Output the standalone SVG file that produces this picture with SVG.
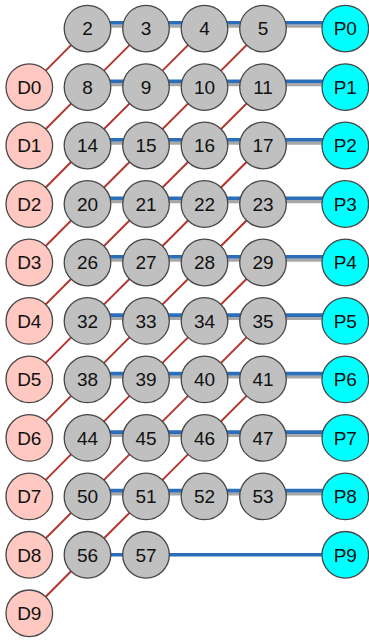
<svg xmlns="http://www.w3.org/2000/svg" width="369" height="642" viewBox="0 0 369 642">
<style>
.bg{fill:#ffffff}
.gr{stroke:#a8a8a8;stroke-width:3.4;fill:none}
.bl{stroke:#2b6fba;stroke-width:3.6;fill:none}
.rd{stroke:#b3352c;stroke-width:2;fill:none}
.n circle{fill:#c0c0c0;stroke:#474747;stroke-width:1.3}
.d circle{fill:#ffc8c0;stroke:#474747;stroke-width:1.3}
.p circle{fill:#00ffff;stroke:#474747;stroke-width:1.3}
text{font-family:"Liberation Sans",Arial,sans-serif;font-size:19px;fill:#111;text-anchor:middle}
</style>
<rect class="bg" x="0" y="0" width="369" height="642"/>
<g id="connectors">
<g id="h-gray" class="gr">
<line x1="87.5" y1="26.1" x2="345.3" y2="26.1"/>
<line x1="87.5" y1="84.6" x2="345.3" y2="84.6"/>
<line x1="87.5" y1="143" x2="345.3" y2="143"/>
<line x1="87.5" y1="201.5" x2="345.3" y2="201.5"/>
<line x1="87.5" y1="260" x2="345.3" y2="260"/>
<line x1="87.5" y1="318.4" x2="345.3" y2="318.4"/>
<line x1="87.5" y1="376.9" x2="345.3" y2="376.9"/>
<line x1="87.5" y1="435.4" x2="345.3" y2="435.4"/>
<line x1="87.5" y1="493.9" x2="345.3" y2="493.9"/>
</g>
<g id="h-blue" class="bl">
<line x1="87.5" y1="22.8" x2="146" y2="22.8"/><line x1="146" y1="22.8" x2="204.5" y2="22.8"/><line x1="204.5" y1="22.8" x2="263" y2="22.8"/><line x1="263" y1="22.8" x2="345.3" y2="22.8"/>
<line x1="87.5" y1="81.3" x2="146" y2="81.3"/><line x1="146" y1="81.3" x2="204.5" y2="81.3"/><line x1="204.5" y1="81.3" x2="263" y2="81.3"/><line x1="263" y1="81.3" x2="345.3" y2="81.3"/>
<line x1="87.5" y1="139.7" x2="146" y2="139.7"/><line x1="146" y1="139.7" x2="204.5" y2="139.7"/><line x1="204.5" y1="139.7" x2="263" y2="139.7"/><line x1="263" y1="139.7" x2="345.3" y2="139.7"/>
<line x1="87.5" y1="198.2" x2="146" y2="198.2"/><line x1="146" y1="198.2" x2="204.5" y2="198.2"/><line x1="204.5" y1="198.2" x2="263" y2="198.2"/><line x1="263" y1="198.2" x2="345.3" y2="198.2"/>
<line x1="87.5" y1="256.7" x2="146" y2="256.7"/><line x1="146" y1="256.7" x2="204.5" y2="256.7"/><line x1="204.5" y1="256.7" x2="263" y2="256.7"/><line x1="263" y1="256.7" x2="345.3" y2="256.7"/>
<line x1="87.5" y1="315.1" x2="146" y2="315.1"/><line x1="146" y1="315.1" x2="204.5" y2="315.1"/><line x1="204.5" y1="315.1" x2="263" y2="315.1"/><line x1="263" y1="315.1" x2="345.3" y2="315.1"/>
<line x1="87.5" y1="373.6" x2="146" y2="373.6"/><line x1="146" y1="373.6" x2="204.5" y2="373.6"/><line x1="204.5" y1="373.6" x2="263" y2="373.6"/><line x1="263" y1="373.6" x2="345.3" y2="373.6"/>
<line x1="87.5" y1="432.1" x2="146" y2="432.1"/><line x1="146" y1="432.1" x2="204.5" y2="432.1"/><line x1="204.5" y1="432.1" x2="263" y2="432.1"/><line x1="263" y1="432.1" x2="345.3" y2="432.1"/>
<line x1="87.5" y1="490.6" x2="146" y2="490.6"/><line x1="146" y1="490.6" x2="204.5" y2="490.6"/><line x1="204.5" y1="490.6" x2="263" y2="490.6"/><line x1="263" y1="490.6" x2="345.3" y2="490.6"/>
<line x1="87.5" y1="554.8" x2="146" y2="554.8"/><line x1="146" y1="554.8" x2="345.3" y2="554.8"/>
</g>
<g id="diagonals" class="rd">
<line x1="29.3" y1="87.1" x2="87.5" y2="28.6"/>
<line x1="29.3" y1="145.5" x2="87.5" y2="87.1"/><line x1="87.5" y1="87.1" x2="146" y2="28.6"/>
<line x1="29.3" y1="204" x2="87.5" y2="145.5"/><line x1="87.5" y1="145.5" x2="146" y2="87.1"/><line x1="146" y1="87.1" x2="204.5" y2="28.6"/>
<line x1="29.3" y1="262.5" x2="87.5" y2="204"/><line x1="87.5" y1="204" x2="146" y2="145.5"/><line x1="146" y1="145.5" x2="204.5" y2="87.1"/><line x1="204.5" y1="87.1" x2="263" y2="28.6"/>
<line x1="29.3" y1="320.9" x2="87.5" y2="262.5"/><line x1="87.5" y1="262.5" x2="146" y2="204"/><line x1="146" y1="204" x2="204.5" y2="145.5"/><line x1="204.5" y1="145.5" x2="263" y2="87.1"/>
<line x1="29.3" y1="379.4" x2="87.5" y2="320.9"/><line x1="87.5" y1="320.9" x2="146" y2="262.5"/><line x1="146" y1="262.5" x2="204.5" y2="204"/><line x1="204.5" y1="204" x2="263" y2="145.5"/>
<line x1="29.3" y1="437.9" x2="87.5" y2="379.4"/><line x1="87.5" y1="379.4" x2="146" y2="320.9"/><line x1="146" y1="320.9" x2="204.5" y2="262.5"/><line x1="204.5" y1="262.5" x2="263" y2="204"/>
<line x1="29.3" y1="496.4" x2="87.5" y2="437.9"/><line x1="87.5" y1="437.9" x2="146" y2="379.4"/><line x1="146" y1="379.4" x2="204.5" y2="320.9"/><line x1="204.5" y1="320.9" x2="263" y2="262.5"/>
<line x1="29.3" y1="554.8" x2="87.5" y2="496.4"/><line x1="87.5" y1="496.4" x2="146" y2="437.9"/><line x1="146" y1="437.9" x2="204.5" y2="379.4"/><line x1="204.5" y1="379.4" x2="263" y2="320.9"/>
<line x1="29.3" y1="613.3" x2="87.5" y2="554.8"/><line x1="87.5" y1="554.8" x2="146" y2="496.4"/><line x1="146" y1="496.4" x2="204.5" y2="437.9"/><line x1="204.5" y1="437.9" x2="263" y2="379.4"/>
</g>
</g>
<g id="nodes">
<g id="n2" class="n"><circle cx="87.5" cy="28.6" r="23.3"/><text x="87.5" y="35.4">2</text></g>
<g id="n3" class="n"><circle cx="146" cy="28.6" r="23.3"/><text x="146" y="35.4">3</text></g>
<g id="n4" class="n"><circle cx="204.5" cy="28.6" r="23.3"/><text x="204.5" y="35.4">4</text></g>
<g id="n5" class="n"><circle cx="263" cy="28.6" r="23.3"/><text x="263" y="35.4">5</text></g>
<g id="n8" class="n"><circle cx="87.5" cy="87.1" r="23.3"/><text x="87.5" y="93.9">8</text></g>
<g id="n9" class="n"><circle cx="146" cy="87.1" r="23.3"/><text x="146" y="93.9">9</text></g>
<g id="n10" class="n"><circle cx="204.5" cy="87.1" r="23.3"/><text x="204.5" y="93.9">10</text></g>
<g id="n11" class="n"><circle cx="263" cy="87.1" r="23.3"/><text x="263" y="93.9">11</text></g>
<g id="n14" class="n"><circle cx="87.5" cy="145.5" r="23.3"/><text x="87.5" y="152.3">14</text></g>
<g id="n15" class="n"><circle cx="146" cy="145.5" r="23.3"/><text x="146" y="152.3">15</text></g>
<g id="n16" class="n"><circle cx="204.5" cy="145.5" r="23.3"/><text x="204.5" y="152.3">16</text></g>
<g id="n17" class="n"><circle cx="263" cy="145.5" r="23.3"/><text x="263" y="152.3">17</text></g>
<g id="n20" class="n"><circle cx="87.5" cy="204" r="23.3"/><text x="87.5" y="210.8">20</text></g>
<g id="n21" class="n"><circle cx="146" cy="204" r="23.3"/><text x="146" y="210.8">21</text></g>
<g id="n22" class="n"><circle cx="204.5" cy="204" r="23.3"/><text x="204.5" y="210.8">22</text></g>
<g id="n23" class="n"><circle cx="263" cy="204" r="23.3"/><text x="263" y="210.8">23</text></g>
<g id="n26" class="n"><circle cx="87.5" cy="262.5" r="23.3"/><text x="87.5" y="269.3">26</text></g>
<g id="n27" class="n"><circle cx="146" cy="262.5" r="23.3"/><text x="146" y="269.3">27</text></g>
<g id="n28" class="n"><circle cx="204.5" cy="262.5" r="23.3"/><text x="204.5" y="269.3">28</text></g>
<g id="n29" class="n"><circle cx="263" cy="262.5" r="23.3"/><text x="263" y="269.3">29</text></g>
<g id="n32" class="n"><circle cx="87.5" cy="320.9" r="23.3"/><text x="87.5" y="327.7">32</text></g>
<g id="n33" class="n"><circle cx="146" cy="320.9" r="23.3"/><text x="146" y="327.7">33</text></g>
<g id="n34" class="n"><circle cx="204.5" cy="320.9" r="23.3"/><text x="204.5" y="327.7">34</text></g>
<g id="n35" class="n"><circle cx="263" cy="320.9" r="23.3"/><text x="263" y="327.7">35</text></g>
<g id="n38" class="n"><circle cx="87.5" cy="379.4" r="23.3"/><text x="87.5" y="386.2">38</text></g>
<g id="n39" class="n"><circle cx="146" cy="379.4" r="23.3"/><text x="146" y="386.2">39</text></g>
<g id="n40" class="n"><circle cx="204.5" cy="379.4" r="23.3"/><text x="204.5" y="386.2">40</text></g>
<g id="n41" class="n"><circle cx="263" cy="379.4" r="23.3"/><text x="263" y="386.2">41</text></g>
<g id="n44" class="n"><circle cx="87.5" cy="437.9" r="23.3"/><text x="87.5" y="444.7">44</text></g>
<g id="n45" class="n"><circle cx="146" cy="437.9" r="23.3"/><text x="146" y="444.7">45</text></g>
<g id="n46" class="n"><circle cx="204.5" cy="437.9" r="23.3"/><text x="204.5" y="444.7">46</text></g>
<g id="n47" class="n"><circle cx="263" cy="437.9" r="23.3"/><text x="263" y="444.7">47</text></g>
<g id="n50" class="n"><circle cx="87.5" cy="496.4" r="23.3"/><text x="87.5" y="503.2">50</text></g>
<g id="n51" class="n"><circle cx="146" cy="496.4" r="23.3"/><text x="146" y="503.2">51</text></g>
<g id="n52" class="n"><circle cx="204.5" cy="496.4" r="23.3"/><text x="204.5" y="503.2">52</text></g>
<g id="n53" class="n"><circle cx="263" cy="496.4" r="23.3"/><text x="263" y="503.2">53</text></g>
<g id="n56" class="n"><circle cx="87.5" cy="554.8" r="23.3"/><text x="87.5" y="561.6">56</text></g>
<g id="n57" class="n"><circle cx="146" cy="554.8" r="23.3"/><text x="146" y="561.6">57</text></g>
<g id="P0" class="p"><circle cx="345.3" cy="28.6" r="23.3"/><text x="345.3" y="35.4">P0</text></g>
<g id="P1" class="p"><circle cx="345.3" cy="87.1" r="23.3"/><text x="345.3" y="93.9">P1</text></g>
<g id="P2" class="p"><circle cx="345.3" cy="145.5" r="23.3"/><text x="345.3" y="152.3">P2</text></g>
<g id="P3" class="p"><circle cx="345.3" cy="204" r="23.3"/><text x="345.3" y="210.8">P3</text></g>
<g id="P4" class="p"><circle cx="345.3" cy="262.5" r="23.3"/><text x="345.3" y="269.3">P4</text></g>
<g id="P5" class="p"><circle cx="345.3" cy="320.9" r="23.3"/><text x="345.3" y="327.7">P5</text></g>
<g id="P6" class="p"><circle cx="345.3" cy="379.4" r="23.3"/><text x="345.3" y="386.2">P6</text></g>
<g id="P7" class="p"><circle cx="345.3" cy="437.9" r="23.3"/><text x="345.3" y="444.7">P7</text></g>
<g id="P8" class="p"><circle cx="345.3" cy="496.4" r="23.3"/><text x="345.3" y="503.2">P8</text></g>
<g id="P9" class="p"><circle cx="345.3" cy="554.8" r="23.3"/><text x="345.3" y="561.6">P9</text></g>
<g id="D0" class="d"><circle cx="29.3" cy="87.1" r="23.3"/><text x="29.3" y="93.9">D0</text></g>
<g id="D1" class="d"><circle cx="29.3" cy="145.5" r="23.3"/><text x="29.3" y="152.3">D1</text></g>
<g id="D2" class="d"><circle cx="29.3" cy="204" r="23.3"/><text x="29.3" y="210.8">D2</text></g>
<g id="D3" class="d"><circle cx="29.3" cy="262.5" r="23.3"/><text x="29.3" y="269.3">D3</text></g>
<g id="D4" class="d"><circle cx="29.3" cy="320.9" r="23.3"/><text x="29.3" y="327.7">D4</text></g>
<g id="D5" class="d"><circle cx="29.3" cy="379.4" r="23.3"/><text x="29.3" y="386.2">D5</text></g>
<g id="D6" class="d"><circle cx="29.3" cy="437.9" r="23.3"/><text x="29.3" y="444.7">D6</text></g>
<g id="D7" class="d"><circle cx="29.3" cy="496.4" r="23.3"/><text x="29.3" y="503.2">D7</text></g>
<g id="D8" class="d"><circle cx="29.3" cy="554.8" r="23.3"/><text x="29.3" y="561.6">D8</text></g>
<g id="D9" class="d"><circle cx="29.3" cy="613.3" r="23.3"/><text x="29.3" y="620.1">D9</text></g>
</g>
</svg>
